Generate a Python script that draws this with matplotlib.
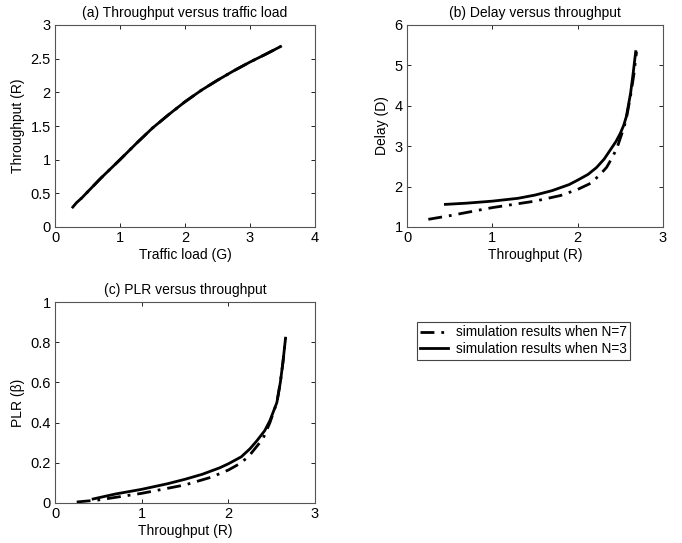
import matplotlib
matplotlib.use("Agg")
import matplotlib.pyplot as plt

plt.rcParams['font.family'] = ['Liberation Sans', 'DejaVu Sans']
plt.rcParams['font.size'] = 10
plt.rcParams['xtick.direction'] = 'in'
plt.rcParams['ytick.direction'] = 'in'
plt.rcParams['xtick.top'] = True
plt.rcParams['ytick.right'] = True

# (a) throughput vs traffic load
load_n7 = [0.26, 0.33, 0.41, 0.7, 1.0, 1.25, 1.5, 1.75, 2.0, 2.25, 2.5, 2.75, 3.0, 3.25, 3.47]
thr_n7 = [0.28, 0.36, 0.43, 0.72, 1.0, 1.24, 1.47, 1.67, 1.86, 2.03, 2.18, 2.32, 2.45, 2.57, 2.68]
load_n3 = [0.41, 0.7, 1.0, 1.25, 1.5, 1.75, 2.0, 2.25, 2.5, 2.75, 3.0, 3.25, 3.47]
thr_n3 = [0.43, 0.72, 1.0, 1.24, 1.47, 1.67, 1.86, 2.03, 2.18, 2.32, 2.45, 2.57, 2.68]

# (b) delay vs throughput
d_r_n7 = [0.25, 0.5, 1.0, 1.5, 1.8, 2.0, 2.15, 2.26, 2.34, 2.4, 2.46, 2.5, 2.54, 2.57, 2.62, 2.66, 2.69]
delay_n7 = [1.19, 1.28, 1.48, 1.64, 1.78, 1.93, 2.08, 2.29, 2.48, 2.7, 2.95, 3.2, 3.45, 3.68, 4.25, 4.8, 5.34]
d_r_n3 = [0.45, 0.7, 1.0, 1.3, 1.5, 1.7, 1.9, 2.0, 2.12, 2.22, 2.31, 2.38, 2.45, 2.5, 2.54, 2.57, 2.62, 2.65, 2.68]
delay_n3 = [1.56, 1.59, 1.64, 1.71, 1.79, 1.9, 2.05, 2.16, 2.3, 2.47, 2.68, 2.9, 3.12, 3.32, 3.52, 3.73, 4.31, 4.8, 5.34]

# (c) PLR vs throughput
p_r_n7 = [0.25, 0.5, 1.0, 1.5, 1.8, 2.0, 2.15, 2.25, 2.4, 2.48, 2.56, 2.6, 2.63, 2.66]
plr_n7 = [0.005, 0.015, 0.048, 0.09, 0.128, 0.164, 0.2, 0.24, 0.32, 0.4, 0.5, 0.6, 0.7, 0.82]
p_r_n3 = [0.44, 0.7, 1.0, 1.3, 1.5, 1.7, 1.9, 2.0, 2.15, 2.25, 2.33, 2.42, 2.48, 2.56, 2.6, 2.63, 2.66]
plr_n3 = [0.02, 0.045, 0.068, 0.096, 0.118, 0.143, 0.175, 0.195, 0.23, 0.27, 0.31, 0.36, 0.41, 0.5, 0.6, 0.7, 0.82]

labels = ['simulation results when N=7', 'simulation results when N=3']
dashdot = (0, (5, 2.5, 1, 2.5))

fig = plt.figure(figsize=(6.82, 5.43), dpi=100)
W, H = 682.0, 543.0

def make_axes(x0, x1, y0, y1):
    return fig.add_axes([x0 / W, 1 - y1 / H, (x1 - x0) / W, (y1 - y0) / H])

ax1 = make_axes(55, 315, 25, 227)
ax2 = make_axes(407, 663, 25, 227)
ax3 = make_axes(55, 315, 302, 503)

l7, = ax1.plot(load_n7, thr_n7, color='black', lw=2, linestyle=dashdot)
l3, = ax1.plot(load_n3, thr_n3, color='black', lw=2)
ax1.set_xlim(0, 4)
ax1.set_ylim(0, 3)
ax1.set_xticks([0, 1, 2, 3, 4])
ax1.set_yticks([0, 0.5, 1, 1.5, 2, 2.5, 3])
ax1.set_yticklabels(['0', '0.5', '1', '1.5', '2', '2.5', '3'])
ax1.set_xlabel('Traffic load (G)', labelpad=2)
ax1.set_ylabel('Throughput (R)', labelpad=4)
ax1.set_title('(a) Throughput versus traffic load', fontsize=10, pad=6)

ax2.plot(d_r_n7, delay_n7, color='black', lw=2, linestyle=dashdot)
ax2.plot(d_r_n3, delay_n3, color='black', lw=2)
ax2.set_xlim(0, 3)
ax2.set_ylim(1, 6)
ax2.set_xticks([0, 1, 2, 3])
ax2.set_yticks([1, 2, 3, 4, 5, 6])
ax2.set_xlabel('Throughput (R)', labelpad=2)
ax2.set_ylabel('Delay (D)', labelpad=4)
ax2.set_title('(b) Delay versus throughput', fontsize=10, pad=6)

ax3.plot(p_r_n7, plr_n7, color='black', lw=2, linestyle=dashdot)
ax3.plot(p_r_n3, plr_n3, color='black', lw=2)
ax3.set_xlim(0, 3)
ax3.set_ylim(0, 1)
ax3.set_xticks([0, 1, 2, 3])
ax3.set_yticks([0, 0.2, 0.4, 0.6, 0.8, 1])
ax3.set_yticklabels(['0', '0.2', '0.4', '0.6', '0.8', '1'])
ax3.set_xlabel('Throughput (R)', labelpad=2)
ax3.set_ylabel('PLR (\u03b2)', labelpad=4)
ax3.set_title('(c) PLR versus throughput', fontsize=10, pad=6)

for ax in (ax1, ax2, ax3):
    ax.tick_params(length=3, width=0.6, pad=3, labelsize=10.5)
    for s in ax.spines.values():
        s.set_linewidth(0.8)
        s.set_color('#555555')

leg = fig.legend([l7, l3], labels, loc='upper left',
                 bbox_to_anchor=(417 / W, 1 - 322 / H), borderaxespad=0,
                 fancybox=False, edgecolor='#444444', framealpha=1,
                 handlelength=2.0, borderpad=0.25, labelspacing=0.2,
                 handletextpad=0.6, fontsize=9.8)
leg.get_frame().set_linewidth(0.8)

fig.savefig('out.png', dpi=100)
